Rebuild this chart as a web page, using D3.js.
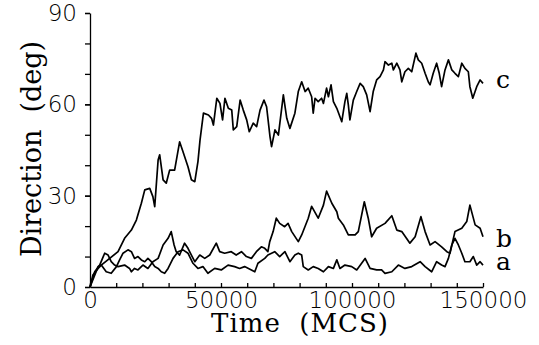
<!DOCTYPE html>
<html>
<head>
<meta charset="utf-8">
<script src="https://cdn.jsdelivr.net/npm/d3@7/dist/d3.min.js"></script>
<style>
  html, body { margin: 0; padding: 0; background: #fff; }
  svg { display: block; }
</style>
</head>
<body>
<svg id="chart" width="539" height="345"></svg>
<script>
// [time (MCS), direction (deg)]
const seriesA = [
  [0, 0], [1100, 3.9], [3100, 6.1], [4300, 7.2], [6200, 5.0], [8100, 4.5],
  [10100, 6.7], [11300, 8.9], [12600, 11.1], [14500, 12.2], [15800, 11.6],
  [17000, 9.4], [18300, 10.0], [19600, 8.9], [20900, 8.3], [22100, 9.4],
  [23400, 8.3], [24700, 6.7], [26000, 6.1], [27200, 5.0], [28500, 4.5],
  [29800, 6.1], [31700, 9.4], [33600, 11.6], [35500, 12.2], [37400, 11.1],
  [39300, 7.8], [41200, 6.1], [43100, 6.7], [45000, 4.5], [47600, 6.1],
  [50100, 5.6], [52700, 7.2], [55200, 6.7], [57100, 6.1], [59000, 6.7],
  [61600, 5.6], [62900, 5.0], [64100, 7.8], [66700, 9.4], [67900, 10.5],
  [70500, 11.6], [72400, 10.0], [74400, 11.6], [76300, 8.3], [78200, 10.5],
  [79500, 11.1], [80800, 10.5], [81400, 6.7], [83300, 5.6], [85200, 6.7],
  [87100, 6.1], [89100, 5.0], [91000, 6.7], [92900, 6.1], [94200, 8.9],
  [95400, 6.1], [97300, 7.2], [99900, 6.7], [101800, 5.6], [105000, 9.4],
  [106900, 6.1], [109400, 5.6], [111300, 5.6], [112600, 4.5], [115200, 5.0],
  [117700, 7.2], [120200, 6.1], [122800, 6.7], [126000, 8.3], [127900, 6.7],
  [130400, 5.0], [132300, 8.3], [134200, 7.2], [135500, 6.7], [136800, 9.4],
  [138100, 13.8], [139300, 16.0], [140600, 13.8], [141900, 11.1], [143100, 8.3],
  [145000, 8.3], [146300, 10.0], [147600, 7.2], [148900, 8.3], [150000, 7.2]
];

const seriesB = [
  [0, 0], [1800, 5.0], [3700, 7.2], [5600, 11.1], [6900, 10.5], [8100, 8.3],
  [9400, 7.2], [10700, 6.7], [13200, 7.2], [15100, 6.1], [15800, 5.0],
  [17000, 6.1], [18300, 5.6], [20200, 7.2], [22100, 6.1], [24000, 8.3],
  [26000, 9.4], [27900, 13.8], [29800, 16.0], [31000, 18.2], [32100, 13.8],
  [32900, 11.6], [34200, 10.5], [36100, 14.4], [37400, 12.7], [38700, 10.5],
  [40000, 8.3], [41900, 10.5], [43800, 9.4], [45700, 10.5], [48200, 14.4],
  [49500, 11.6], [51400, 11.1], [53900, 11.6], [55800, 10.5], [57800, 11.6],
  [59700, 10.0], [61600, 9.4], [63500, 11.6], [65400, 13.2], [66700, 12.7],
  [67900, 11.6], [68600, 14.9], [69900, 18.2], [71100, 22.6], [72400, 20.9],
  [74300, 19.8], [75600, 20.9], [77000, 18.2], [79500, 14.9], [80800, 17.1],
  [83300, 22.6], [84600, 26.5], [87100, 22.6], [89100, 26.9], [90300, 31.5],
  [92300, 27.5], [94200, 24.7], [94800, 22.6], [96700, 20.4], [98600, 17.1],
  [101200, 17.1], [102400, 18.2], [104700, 28.0], [106200, 22.6], [107500, 16.5],
  [109400, 19.3], [112600, 20.9], [115200, 23.4], [117100, 18.7], [119000, 18.2],
  [122100, 14.4], [124100, 16.5], [126300, 23.1], [127900, 18.2], [129800, 13.8],
  [131700, 14.9], [134200, 13.2], [136200, 11.6], [137400, 11.1], [139300, 18.2],
  [141900, 19.3], [143800, 21.5], [145000, 26.9], [147000, 20.4], [148900, 19.3],
  [150000, 16.5]
];

const seriesC = [
  [0, 0], [3100, 6.7], [4300, 7.2], [10700, 11.6], [13200, 16.0], [15800, 18.7],
  [17700, 22.0], [19600, 27.5], [20900, 31.9], [22800, 32.4], [24000, 29.7],
  [24700, 26.4], [26000, 41.7], [26600, 43.4], [27900, 35.2], [29100, 34.1],
  [30400, 38.4], [32300, 38.4], [34200, 47.7], [35500, 44.4], [37400, 39.5],
  [38700, 35.2], [40000, 34.6], [41200, 41.2], [42000, 48.3], [43300, 57.1],
  [45200, 56.5], [46400, 55.4], [47100, 53.2], [48400, 62.0], [49600, 60.3],
  [50600, 54.9], [51500, 62.0], [52800, 58.7], [54100, 58.1], [54700, 51.6],
  [56000, 52.7], [57300, 61.4], [58500, 58.1], [59800, 54.9], [60800, 51.0],
  [62300, 53.8], [63600, 52.7], [64900, 58.1], [66400, 61.4], [67400, 59.2],
  [68700, 49.4], [69300, 46.1], [70600, 51.6], [71900, 49.9], [73800, 63.1],
  [75100, 55.4], [76300, 52.1], [78200, 57.1], [79500, 64.2], [80800, 67.4],
  [82100, 64.2], [83300, 65.3], [84600, 62.5], [85200, 57.1], [85900, 62.0],
  [87100, 60.9], [88400, 62.0], [89100, 60.3], [90300, 65.3], [91000, 62.5],
  [92000, 66.4], [92900, 60.9], [94200, 58.7], [95400, 55.9], [96100, 54.3],
  [97300, 60.9], [98000, 63.6], [98600, 59.8], [99200, 54.9], [100500, 61.4],
  [101800, 64.2], [103100, 66.9], [104300, 65.8], [105600, 63.1], [106900, 57.6],
  [108100, 64.2], [109400, 68.0], [110700, 69.1], [112000, 71.3], [112600, 74.0],
  [113900, 72.9], [115200, 73.5], [115800, 71.3], [117100, 73.5], [118300, 71.3],
  [119000, 67.4], [120200, 70.7], [121500, 71.8], [122800, 70.7], [124400, 76.8],
  [125300, 74.6], [126600, 73.5], [127900, 70.2], [129100, 67.4], [129800, 66.4],
  [131000, 70.2], [132300, 73.5], [133300, 70.2], [134200, 65.8], [135500, 71.3],
  [136800, 74.6], [138100, 71.3], [139300, 70.2], [140600, 69.1], [141900, 73.5],
  [143100, 71.8], [144400, 70.7], [145000, 65.8], [146100, 62.0], [147600, 65.8],
  [148900, 68.0], [150000, 66.9]
];

const seriesNames = ['a', 'b', 'c'];
const xTickValues = [0, 50000, 100000, 150000];
const yTickValues = [0, 30, 60, 90];
const xTitle = 'Time  (MCS)';
const yTitle = 'Direction  (deg)';

let svg = d3.select('#chart');

let x = d3.scaleLinear().domain([0, 150000]).range([90, 483]);
let y = d3.scaleLinear().domain([0, 90]).range([287, 13]);

let tickFont = '"DejaVu Sans", sans-serif';
let serifFont = '"DejaVu Serif", serif';

// minor ticks, y (outward)
svg.append('g')
  .attr('transform', 'translate(' + x(0) + ',0)')
  .call(d3.axisLeft(y).tickValues(d3.range(0, 91, 10)).tickSize(5).tickSizeOuter(0).tickFormat(''))
  .call(g => g.selectAll('path, line').attr('stroke', '#000').attr('stroke-width', 1.3));

// major y labels
svg.append('g')
  .attr('transform', 'translate(' + x(0) + ',0)')
  .call(d3.axisLeft(y).tickValues(yTickValues).tickSize(5).tickSizeOuter(0).tickPadding(8))
  .call(g => g.select('.domain').remove())
  .call(g => g.selectAll('line').attr('stroke', '#000').attr('stroke-width', 1.3))
  .call(g => g.selectAll('text')
    .attr('font-family', tickFont)
    .attr('font-weight', 200)
    .attr('font-size', 23)
    .attr('fill', '#000'));

// x axis, ticks inward
svg.append('g')
  .attr('transform', 'translate(0,' + y(0) + ')')
  .call(d3.axisBottom(x).tickValues(d3.range(0, 150001, 10000)).tickSizeInner(-4).tickSizeOuter(0).tickFormat(''))
  .call(g => g.selectAll('path, line').attr('stroke', '#000').attr('stroke-width', 1.3));

svg.append('g')
  .attr('transform', 'translate(0,' + y(0) + ')')
  .call(d3.axisBottom(x).tickValues(xTickValues).tickSize(0).tickPadding(5).tickFormat(d3.format('d')))
  .call(g => g.select('.domain').remove())
  .call(g => g.selectAll('text')
    .attr('font-family', tickFont)
    .attr('font-weight', 200)
    .attr('font-size', 23)
    .attr('fill', '#000'));

// curves
let line = d3.line()
  .x(d => x(d[0]))
  .y(d => y(d[1]));

let allSeries = [seriesA, seriesB, seriesC];

svg.append('g')
  .selectAll('path')
  .data(allSeries)
  .join('path')
  .attr('d', line)
  .attr('fill', 'none')
  .attr('stroke', '#000')
  .attr('stroke-width', 1.7)
  .attr('stroke-linejoin', 'round');

// series labels at the right end (baseline levels in deg)
let labelBase = [5.6, 13.3, 65.4];
svg.append('g')
  .selectAll('text')
  .data(seriesNames)
  .join('text')
  .attr('x', 496)
  .attr('y', (d, i) => y(labelBase[i]))
  .attr('font-family', serifFont)
  .attr('font-size', 25)
  .text(d => d);

// titles
svg.append('text')
  .attr('x', 300)
  .attr('y', 332)
  .attr('text-anchor', 'middle')
  .attr('font-family', serifFont)
  .attr('font-size', 26)
  .attr('letter-spacing', 1)
  .style('white-space', 'pre')
  .text(xTitle);

svg.append('text')
  .attr('transform', 'translate(41,' + 149 + ') rotate(-90)')
  .attr('text-anchor', 'middle')
  .attr('font-family', serifFont)
  .attr('font-size', 27)
  .style('white-space', 'pre')
  .text(yTitle);
</script>
</body>
</html>
